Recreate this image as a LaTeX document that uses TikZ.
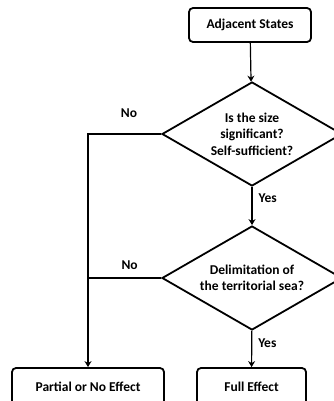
\documentclass[tikz,border=0pt]{standalone}
\usepackage{fontspec}
\setmainfont{Carlito}
\usetikzlibrary{shapes.geometric,arrows.meta}

\begin{document}
\begin{tikzpicture}[
    x=1pt,y=-1pt,
    >={Stealth[length=6pt,width=7pt]},
    font=\bfseries\fontsize{13.5}{16.5}\selectfont,
    box/.style={draw,line width=1.8pt,rounded corners=4pt,minimum height=34pt,inner sep=0pt},
    decision/.style={draw,diamond,line width=1.8pt,aspect=1.75,minimum width=180pt,minimum height=104pt,inner sep=0pt,align=center},
    conn/.style={->,line width=1.2pt},
    answer/.style={inner sep=2pt},
]
    \useasboundingbox (0,0) rectangle (334,401);
    \clip (0,0) rectangle (334,401);
    \node[box,minimum width=122pt] (adj) at (250,25) {Adjacent States};
    \node[decision] (size) at (252,134) {Is the size\\significant?\\Self-sufficient?};
    \node[decision] (delim) at (252,278) {Delimitation of\\the territorial sea?};
    \node[box,minimum width=152pt,minimum height=38pt] (partial) at (88,387) {Partial or No Effect};
    \node[box,minimum width=109pt,minimum height=38pt] (full) at (251.5,387) {Full Effect};
    \draw[conn] (adj) -- (size);
    \draw[conn] (size) -- (delim) node[answer,pos=0.3,right=4pt] {Yes};
    \draw[conn] (delim) -- (full) node[answer,pos=0.34,right=4pt] {Yes};
    \draw[conn] (size.west) -| (partial) node[answer,pos=0.22,above=14pt] {No};
    \coordinate (join) at (delim.west -| partial);
    \draw[line width=1.2pt] (delim.west) -- (join) node[answer,pos=0.43,above=6pt] {No};
\end{tikzpicture}
\end{document}
